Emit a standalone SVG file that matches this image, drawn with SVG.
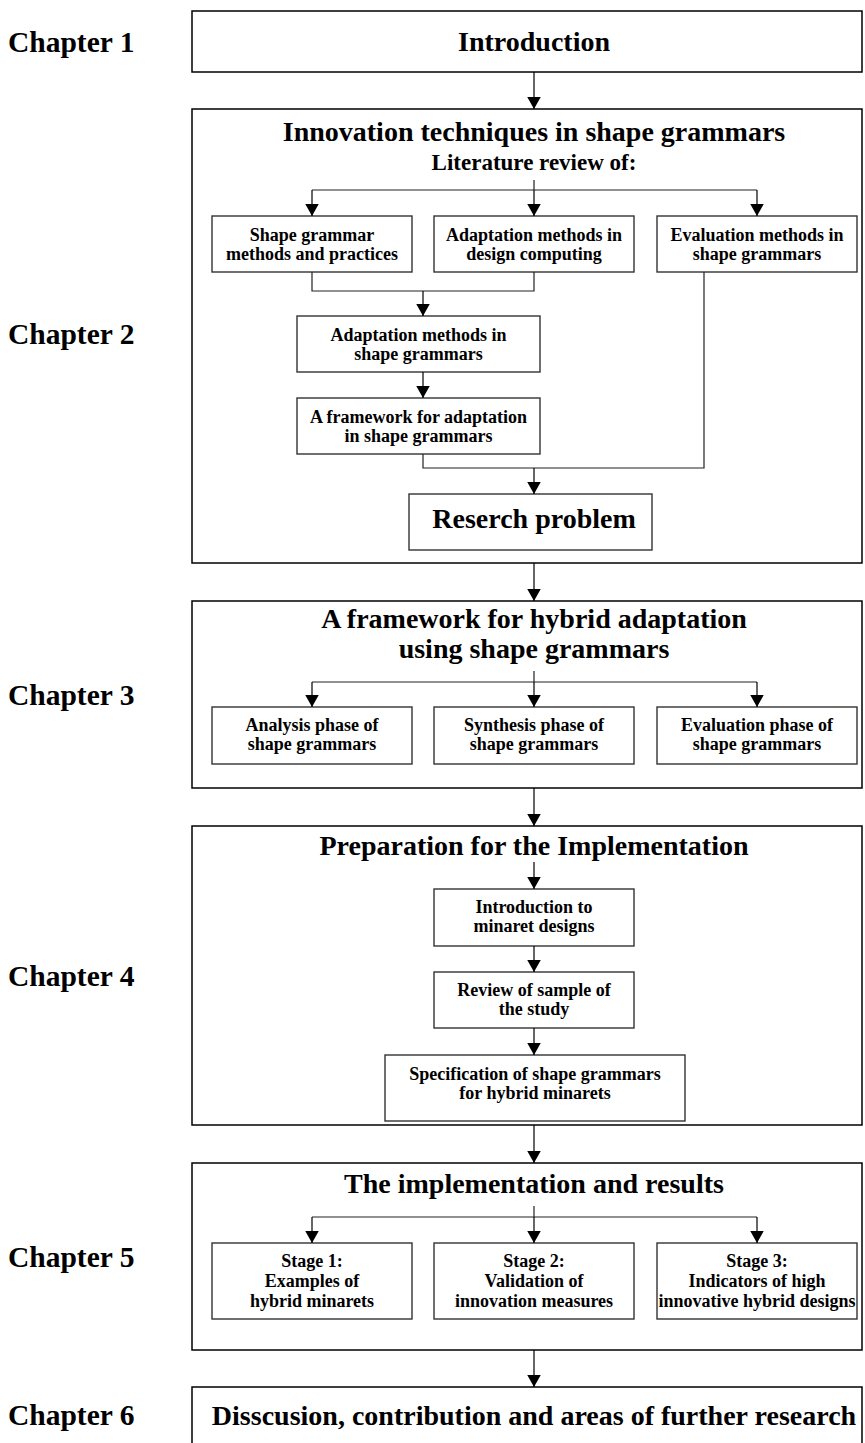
<svg xmlns="http://www.w3.org/2000/svg" width="865" height="1443" viewBox="0 0 865 1443">
<defs>
<marker id="ah" markerUnits="userSpaceOnUse" markerWidth="13" markerHeight="14" refX="12.5" refY="7" orient="auto" viewBox="0 0 13 14">
<path d="M0,0 L12.5,7 L0,14 z" fill="#000"/>
</marker>
<style>
.big{fill:#fff;stroke:#000;stroke-width:1.5}
.box{fill:#fff;stroke:#333;stroke-width:1.4}
.t{font-family:"Liberation Serif","Times New Roman",serif;font-weight:bold;fill:#000;text-anchor:middle}
.h{font-size:28px}
.s{font-size:18px}
.ch{font-family:"Liberation Serif","Times New Roman",serif;font-weight:bold;font-size:29.5px;fill:#000}
.c{fill:none;stroke:#222;stroke-width:1.2}
.a{fill:none;stroke:#000;stroke-width:1.2;marker-end:url(#ah)}
</style>
</defs>
<rect width="865" height="1443" fill="#fff"/>

<g id="labels">
<text class="ch" x="8" y="52">Chapter 1</text>
<text class="ch" x="8" y="344">Chapter 2</text>
<text class="ch" x="8" y="705">Chapter 3</text>
<text class="ch" x="8" y="986">Chapter 4</text>
<text class="ch" x="8" y="1267">Chapter 5</text>
<text class="ch" x="8" y="1425">Chapter 6</text>
</g>

<g id="ch1">
<rect class="big" x="192" y="11" width="670" height="61"/>
<text class="t h" x="534" y="51">Introduction</text>
</g>

<g id="ch2">
<rect class="big" x="192" y="109" width="670" height="454"/>
<text class="t h" x="534" y="141">Innovation techniques in shape grammars</text>
<text class="t" style="font-size:23px" x="534" y="170">Literature review of:</text>
</g>
<g id="n-sg">
<rect class="box" x="212" y="216" width="200" height="56"/>
<text class="t s" x="312" y="241">Shape grammar</text>
<text class="t s" x="312" y="260">methods and practices</text>
</g>
<g id="n-amdc">
<rect class="box" x="434" y="216" width="200" height="56"/>
<text class="t s" x="534" y="241">Adaptation methods in</text>
<text class="t s" x="534" y="260">design computing</text>
</g>
<g id="n-emsg">
<rect class="box" x="657" y="216" width="200" height="56"/>
<text class="t s" x="757" y="241">Evaluation methods in</text>
<text class="t s" x="757" y="260">shape grammars</text>
</g>
<g id="n-amsg">
<rect class="box" x="297" y="316" width="243" height="56"/>
<text class="t s" x="418.5" y="341">Adaptation methods in</text>
<text class="t s" x="418.5" y="360">shape grammars</text>
</g>
<g id="n-fasg">
<rect class="box" x="297" y="398" width="243" height="56"/>
<text class="t s" x="418.5" y="423">A framework for adaptation</text>
<text class="t s" x="418.5" y="442">in shape grammars</text>
</g>
<g id="n-rp">
<rect class="box" x="409" y="494" width="243" height="56"/>
<text class="t h" x="534" y="528">Reserch problem</text>
</g>

<g id="ch3">
<rect class="big" x="192" y="601" width="670" height="187"/>
<text class="t h" x="534" y="628">A framework for hybrid adaptation</text>
<text class="t h" x="534" y="658">using shape grammars</text>
</g>
<g id="n-an">
<rect class="box" x="212" y="707" width="200" height="57"/>
<text class="t s" x="312" y="731">Analysis phase of</text>
<text class="t s" x="312" y="750">shape grammars</text>
</g>
<g id="n-sy">
<rect class="box" x="434" y="707" width="200" height="57"/>
<text class="t s" x="534" y="731">Synthesis phase of</text>
<text class="t s" x="534" y="750">shape grammars</text>
</g>
<g id="n-ev">
<rect class="box" x="657" y="707" width="200" height="57"/>
<text class="t s" x="757" y="731">Evaluation phase of</text>
<text class="t s" x="757" y="750">shape grammars</text>
</g>

<g id="ch4">
<rect class="big" x="192" y="826" width="670" height="299"/>
<text class="t h" x="534" y="855">Preparation for the Implementation</text>
</g>
<g id="n-imd">
<rect class="box" x="434" y="889" width="200" height="57"/>
<text class="t s" x="534" y="913">Introduction to</text>
<text class="t s" x="534" y="932">minaret designs</text>
</g>
<g id="n-rs">
<rect class="box" x="434" y="972" width="200" height="56"/>
<text class="t s" x="534" y="996">Review of sample of</text>
<text class="t s" x="534" y="1015">the study</text>
</g>
<g id="n-spec">
<rect class="box" x="385" y="1055" width="300" height="66"/>
<text class="t s" x="535" y="1080">Specification of shape grammars</text>
<text class="t s" x="535" y="1099">for hybrid minarets</text>
</g>

<g id="ch5">
<rect class="big" x="192" y="1163" width="670" height="187"/>
<text class="t h" x="534" y="1193">The implementation and results</text>
</g>
<g id="n-st1">
<rect class="box" x="212" y="1243" width="200" height="76"/>
<text class="t s" x="312" y="1267">Stage 1:</text>
<text class="t s" x="312" y="1287">Examples of</text>
<text class="t s" x="312" y="1307">hybrid minarets</text>
</g>
<g id="n-st2">
<rect class="box" x="434" y="1243" width="200" height="76"/>
<text class="t s" x="534" y="1267">Stage 2:</text>
<text class="t s" x="534" y="1287">Validation of</text>
<text class="t s" x="534" y="1307">innovation measures</text>
</g>
<g id="n-st3">
<rect class="box" x="657" y="1243" width="200" height="76"/>
<text class="t s" x="757" y="1267">Stage 3:</text>
<text class="t s" x="757" y="1287">Indicators of high</text>
<text class="t s" x="757" y="1307">innovative hybrid designs</text>
</g>

<g id="ch6">
<rect class="big" x="192" y="1387" width="670" height="70"/>
<text class="t h" x="534" y="1425">Disscusion, contribution and areas of further research</text>
</g>

<g id="connectors">
<line class="a" x1="534" y1="72" x2="534" y2="109"/>
<path class="c" d="M534,180 V190 M312,190 H757"/>
<line class="a" x1="312" y1="190" x2="312" y2="216"/>
<line class="a" x1="534" y1="190" x2="534" y2="216"/>
<line class="a" x1="757" y1="190" x2="757" y2="216"/>
<path class="c" d="M312,272 V291 H534 V272"/>
<line class="a" x1="423" y1="291" x2="423" y2="316"/>
<line class="a" x1="423" y1="372" x2="423" y2="398"/>
<path class="c" d="M423,454 V468 H704 V272"/>
<line class="a" x1="534" y1="468" x2="534" y2="494"/>
<line class="a" x1="534" y1="563" x2="534" y2="601"/>
<path class="c" d="M534,671 V682 M312,682 H757"/>
<line class="a" x1="312" y1="682" x2="312" y2="707"/>
<line class="a" x1="534" y1="682" x2="534" y2="707"/>
<line class="a" x1="757" y1="682" x2="757" y2="707"/>
<line class="a" x1="534" y1="788" x2="534" y2="826"/>
<line class="a" x1="534" y1="862" x2="534" y2="889"/>
<line class="a" x1="534" y1="946" x2="534" y2="972"/>
<line class="a" x1="534" y1="1028" x2="534" y2="1055"/>
<line class="a" x1="534" y1="1125" x2="534" y2="1163"/>
<path class="c" d="M534,1206 V1217 M312,1217 H757"/>
<line class="a" x1="312" y1="1217" x2="312" y2="1243"/>
<line class="a" x1="534" y1="1217" x2="534" y2="1243"/>
<line class="a" x1="757" y1="1217" x2="757" y2="1243"/>
<line class="a" x1="534" y1="1350" x2="534" y2="1387"/>
</g>
</svg>
